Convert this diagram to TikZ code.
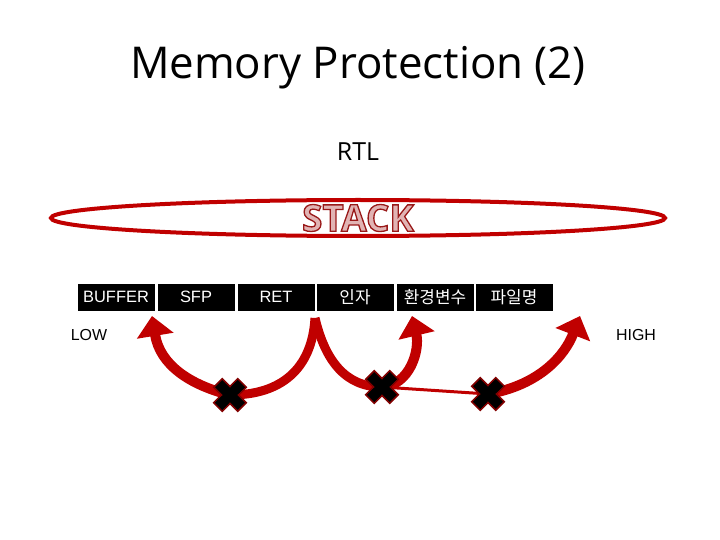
\documentclass[tikz,border=0pt]{standalone}
\usepackage{fontspec}
\setmainfont{Open Sans}
\newfontfamily\cjk{Noto Sans CJK KR}
\newfontfamily\lib{Liberation Sans}
\usetikzlibrary{arrows.meta}
\definecolor{dred}{RGB}{192,0,0}
\definecolor{xred}{RGB}{130,0,0}
\definecolor{pk}{RGB}{225,180,180}
\begin{document}
\begin{tikzpicture}[x=1bp,y=-1bp,
  cell/.style={fill=black,text=white,minimum width=77bp,minimum height=27bp,inner sep=0,font=\lib\fontsize{16.5}{20}\selectfont},
  kcell/.style={cell,font=\cjk\fontsize{17}{20}\selectfont},
  arr/.style={draw=dred,line width=10bp,-{Triangle[length=20bp,width=36bp]}},
  band/.style={draw=dred,line width=9bp},
  xcross/.pic={\foreach \a in {45,-45}{\filldraw[rotate=\a,fill=black,draw=xred,line width=1.5bp] (-17,-6) rectangle (17,6);}\fill[black,rotate=45] (-16,-5) rectangle (16,5);}]
\useasboundingbox (0,0) rectangle (720,540);
\node (title) at (358,68) {\fontsize{44}{52}\selectfont Memory Protection (2)};
\node (rtl) at (358,152) {\fontsize{25}{30}\selectfont RTL};
\draw[dred,line width=4bp] (358,218) ellipse [x radius=307,y radius=18];
\node (stack)[text=pk,font=\bfseries\fontsize{37}{42}\selectfont] at (358,218) {\special{pdf:code 2 Tr 1.3 w 0.6 0.1 0.1 RG}STACK\special{pdf:code 0 Tr}};
\node[cell] (b1) at (116,297) {BUFFER};
\node[cell] (b2) at (196,297) {SFP};
\node[cell] (b3) at (276,297) {RET};
\node[kcell] (b4) at (355,297) {인자};
\node[kcell] (b5) at (435,297) {환경변수};
\node[kcell] (b6) at (514,297) {파일명};
\node[font=\lib\fontsize{16}{18}\selectfont] (low) at (89,335) {LOW};
\node[font=\lib\fontsize{16}{18}\selectfont] (high) at (636,335) {HIGH};
\coordinate (x1) at (230,395);
\coordinate (x2) at (382,387);
\coordinate (x3) at (488,394);
\coordinate (r) at (315,318);
\draw[band] (r) .. controls (312,370) and (280,395) .. (x1);
\draw[band] (r) .. controls (325,360) and (345,387) .. (x2);
\draw[draw=dred,line width=3bp] (x2) -- (x3);
\draw[arr] (x1) .. controls (190,385) and (160,365) .. (152,316);
\draw[arr] (x2) .. controls (410,385) and (420,350) .. (412,316);
\draw[arr] (x3) .. controls (540,385) and (565,355) .. (580,316);
\pic at (x1) {xcross};
\pic at (x2) {xcross};
\pic at (x3) {xcross};
\end{tikzpicture}
\end{document}
